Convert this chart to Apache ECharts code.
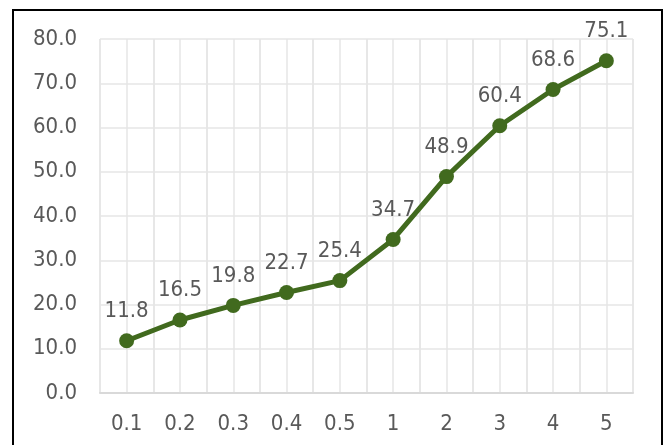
<!DOCTYPE html>
<html>
<head>
<meta charset="utf-8">
<script src="https://cdn.jsdelivr.net/npm/echarts@6/dist/echarts.min.js"></script>
<style>
  html, body { margin: 0; padding: 0; background: #fff; }
  #main { width: 665px; height: 445px; }
</style>
</head>
<body>
<div id="main"></div>
<script>
// data
const categories = ['0.1', '0.2', '0.3', '0.4', '0.5', '1', '2', '3', '4', '5']
const values = [11.8, 16.5, 19.8, 22.7, 25.4, 34.7, 48.9, 60.4, 68.6, 75.1]

const green = '#416a1e'
const textColor = '#595959'
const gridColor = '#e6e6e6'

const myChart = echarts.init(document.getElementById('main'))
const option = {
  animation: false,
  textStyle: { fontFamily: '"DejaVu Sans Condensed", "DejaVu Sans"' },
  graphic: [{
    type: 'rect',
    shape: { x: 13, y: 10, width: 649, height: 470 },
    style: { fill: 'none', stroke: '#000', lineWidth: 2 },
    silent: true
  }],
  grid: { left: 100, right: 32, top: 39, bottom: 52 },
  xAxis: [
    {
      type: 'category',
      data: categories,
      boundaryGap: true,
      axisLine: { show: true, lineStyle: { color: '#d9d9d9', width: 2 } },
      axisTick: { show: false },
      splitLine: { show: true, lineStyle: { color: gridColor, width: 1.5 } },
      axisLabel: { color: textColor, fontSize: 22, margin: 20, interval: 0 }
    },
    {
      // half-category vertical gridlines
      type: 'value',
      min: 0,
      max: 20,
      interval: 1,
      show: true,
      position: 'bottom',
      axisLine: { show: false },
      axisTick: { show: false },
      axisLabel: { show: false },
      splitLine: { show: true, lineStyle: { color: gridColor, width: 1.5 } }
    }
  ],
  yAxis: {
    type: 'value',
    min: 0,
    max: 80,
    interval: 10,
    axisLine: { show: false },
    axisTick: { show: false },
    splitLine: { lineStyle: { color: gridColor, width: 1.5 } },
    axisLabel: {
      color: textColor,
      fontSize: 22,
      margin: 23,
      formatter: v => v.toFixed(1)
    }
  },
  series: [{
    type: 'line',
    xAxisIndex: 0,
    data: values,
    symbol: 'circle',
    symbolSize: 15,
    lineStyle: { color: green, width: 5 },
    itemStyle: { color: green },
    label: {
      show: true,
      position: 'top',
      distance: 11,
      color: textColor,
      fontSize: 22,
      formatter: p => p.value.toFixed(1)
    }
  }]
}
myChart.setOption(option)
</script>
</body>
</html>
